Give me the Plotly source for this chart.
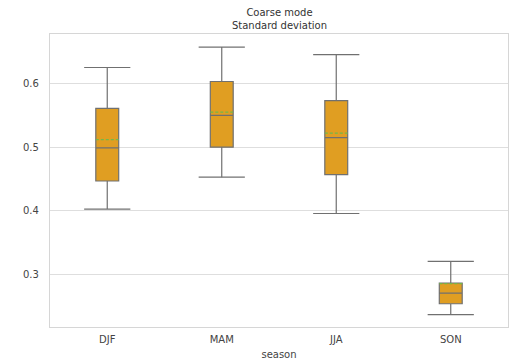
import plotly.graph_objects as go

seasons = ["DJF", "MAM", "JJA", "SON"]
lower_whisker = [0.403, 0.453, 0.396, 0.2375]
q1 = [0.447, 0.500, 0.457, 0.2545]
median = [0.499, 0.550, 0.515, 0.271]
q3 = [0.561, 0.603, 0.573, 0.287]
upper_whisker = [0.625, 0.657, 0.645, 0.321]
mean = [0.512, 0.555, 0.522, 0.286]

pos = list(range(len(seasons)))
box_w = 0.2
line_col = "#707070"

fig = go.Figure()

fig.add_trace(go.Box(
    x=pos, q1=q1, median=median, q3=q3,
    lowerfence=lower_whisker, upperfence=upper_whisker,
    width=box_w, whiskerwidth=0,
    fillcolor="#E09E22",
    line=dict(color=line_col, width=1.2),
    showlegend=False, boxpoints=False,
))

# whisker caps (line-ew symbol spans 1.4 x marker size)
fig.add_trace(go.Scatter(
    x=pos + pos, y=lower_whisker + upper_whisker, mode="markers",
    marker=dict(symbol="line-ew", size=33, line=dict(color=line_col, width=1.2)),
    showlegend=False, hoverinfo="skip",
))

# mean lines
mx, my = [], []
for p, m in zip(pos, mean):
    mx += [p - box_w / 2, p + box_w / 2, None]
    my += [m, m, None]
fig.add_trace(go.Scatter(
    x=mx, y=my, mode="lines",
    line=dict(color="#72b84a", width=1.2, dash="3px,2px"),
    showlegend=False, hoverinfo="skip",
))

fig.update_layout(
    width=514, height=363,
    margin=dict(l=50, r=5, t=34, b=33),
    paper_bgcolor="white", plot_bgcolor="white",
    font=dict(family="DejaVu Sans", size=10, color="#444444"),
    title=dict(
        text="Coarse mode<br>Standard deviation",
        x=(50 + 509) / 2 / 514, xanchor="center",
        yref="container", y=1 - 16 / 363, yanchor="top",
        font=dict(size=10, color="#333333"),
    ),
    xaxis=dict(
        range=[-0.5, 3.5], tickvals=pos, ticktext=seasons,
        showgrid=False, zeroline=False,
        showline=True, mirror=True, linecolor="#d6d6d6", linewidth=1.2,
        ticks="", ticklabelstandoff=3,
        title=dict(text="season", standoff=6, font=dict(size=10)),
    ),
    yaxis=dict(
        range=[0.218, 0.6775], tickvals=[0.3, 0.4, 0.5, 0.6],
        tickformat=".1f",
        showgrid=True, gridcolor="#dedede", gridwidth=1,
        zeroline=False,
        showline=True, mirror=True, linecolor="#d6d6d6", linewidth=1.2,
        ticks="", ticklabelstandoff=8,
    ),
)

fig.write_html(
    "out.html",
    config={"displayModeBar": False},
    post_script="document.body.style.margin='0';document.body.style.overflow='hidden';",
)
